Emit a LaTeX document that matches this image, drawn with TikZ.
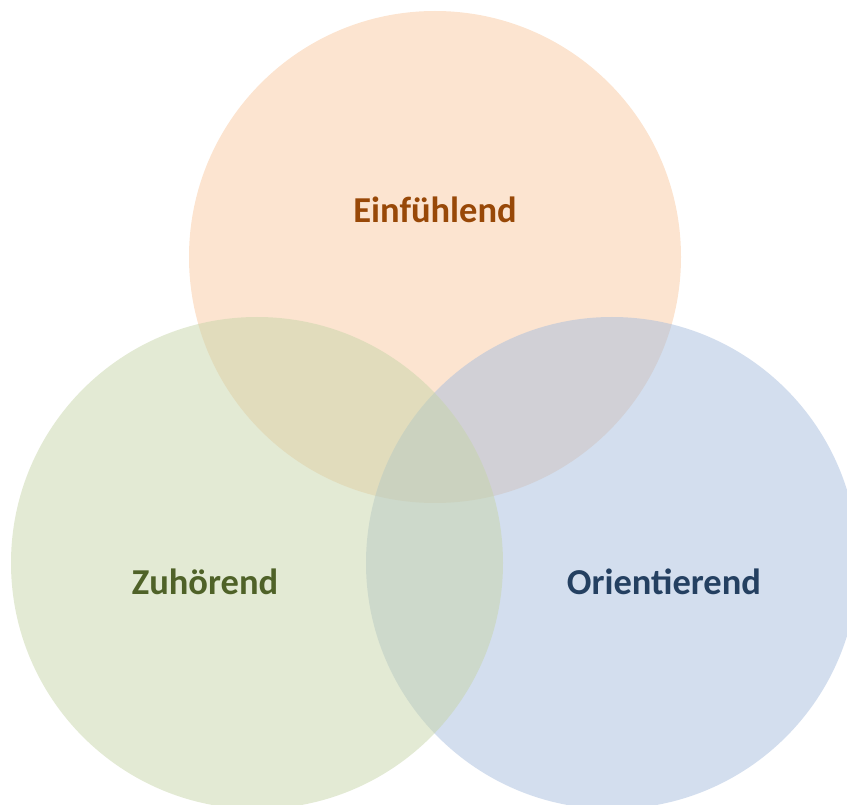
\documentclass[tikz,border=0pt]{standalone}
\usepackage{fontspec}
\setmainfont{Carlito}
\usetikzlibrary{positioning}

\definecolor{orangefill}{RGB}{249,201,161}
\definecolor{bluefill}{RGB}{167,189,221}
\definecolor{greenfill}{RGB}{199,213,169}
\definecolor{orangetext}{RGB}{152,72,7}
\definecolor{bluetext}{RGB}{36,64,97}
\definecolor{greentext}{RGB}{79,98,40}

\begin{document}
\begin{tikzpicture}[x=1pt, y=-1pt,
    set/.style={fill opacity=0.5},
    setlabel/.style={font=\fontsize{36.5}{42}\selectfont\bfseries}]

    \useasboundingbox (0,0) rectangle (847,805);

    % Circles
    \fill[set, orangefill] (435,257) circle (246);
    \fill[set, bluefill] (612,563) circle (246);
    \fill[set, greenfill] (257,563) circle (246);

    % labels
    \node[setlabel, text=orangetext] (einf) at (435,210) {Einfühlend};
    \node[setlabel, text=greentext] (zuh) at (205,582) {Zuhörend};
    \node[setlabel, text=bluetext] (orient) at (664,582) {Orientierend};

\end{tikzpicture}
\end{document}
